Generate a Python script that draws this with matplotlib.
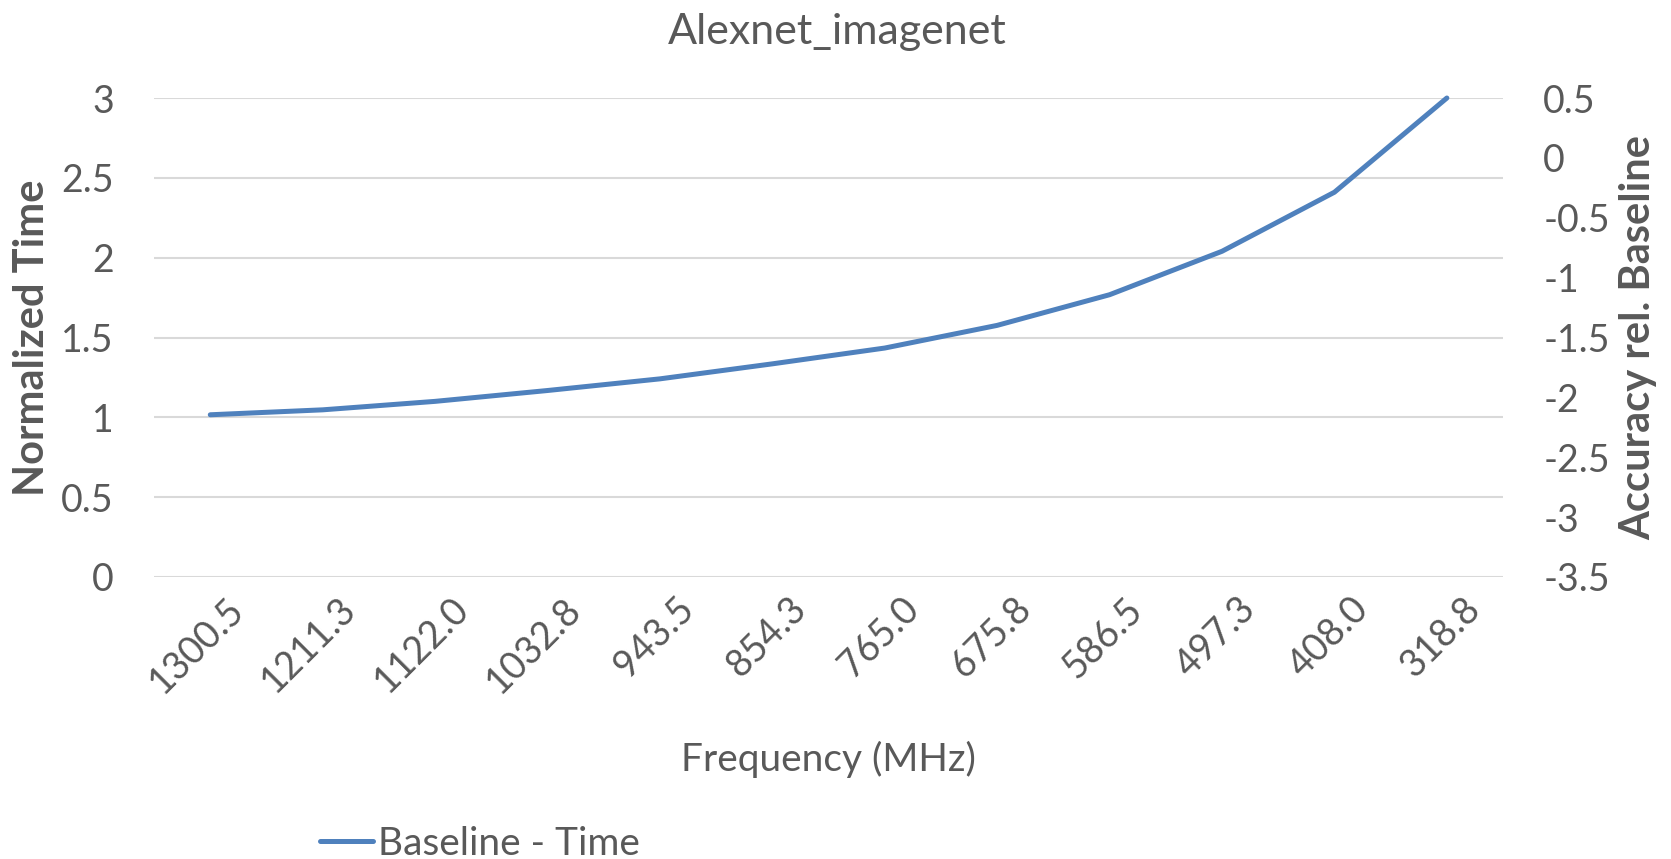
import matplotlib
matplotlib.use("Agg")
import matplotlib.pyplot as plt
from matplotlib.transforms import ScaledTranslation

# frequency steps (MHz), highest first
freqs = ["1300.5", "1211.3", "1122.0", "1032.8", "943.5", "854.3",
         "765.0", "675.8", "586.5", "497.3", "408.0", "318.8"]
# execution time normalised to the 1300.5 MHz run
baseline_time = [1.016, 1.047, 1.10, 1.168, 1.241, 1.335,
                 1.434, 1.576, 1.768, 2.04, 2.41, 3.0]

left_ticks = [0, 0.5, 1, 1.5, 2, 2.5, 3]
right_ticks = [-3.5, -3, -2.5, -2, -1.5, -1, -0.5, 0, 0.5]

plt.rcParams['font.family'] = ['Lato', 'DejaVu Sans']
grey = '#595959'
blue = '#4F81BD'

fig = plt.figure(figsize=(16.71, 8.59), dpi=100)
ax = fig.add_axes([0.0922, 0.3283, 0.8073, 0.5576])
ax2 = ax.twinx()

x = list(range(len(freqs)))
line, = ax.plot(x, baseline_time, color=blue, lw=3.6,
                solid_capstyle='round', solid_joinstyle='round',
                label='Baseline - Time', zorder=3, clip_on=False)

ax.set_xlim(-0.5, len(freqs) - 0.5)
ax.set_ylim(0, 3)
ax.set_yticks(left_ticks)
ax.set_yticklabels([f"{t:g}" for t in left_ticks])
ax.set_xticks(x)
ax.set_xticklabels(freqs, rotation=45, ha='right', rotation_mode='anchor')
ax.yaxis.grid(True, color='#D9D9D9', lw=1.5)
ax.set_axisbelow(True)

ax2.set_ylim(-3.5, 0.5)
ax2.set_yticks(right_ticks)
ax2.set_yticklabels([f"{t:g}" for t in right_ticks])

for a in (ax, ax2):
    for s in a.spines.values():
        s.set_visible(False)
    a.tick_params(length=0, labelsize=27, colors=grey)

ax.tick_params(axis='y', pad=29)
ax.tick_params(axis='x', pad=10)
ax2.tick_params(axis='y', pad=29)

# nudge the slanted frequency labels to the right
shift = ScaledTranslation(11 / 72, 0, fig.dpi_scale_trans)
for lbl in ax.get_xticklabels():
    lbl.set_transform(lbl.get_transform() + shift)

ax.set_ylabel('Normalized Time', fontsize=30, fontweight='bold', color=grey)
ax.yaxis.set_label_coords(-0.0904, 0.5)
ax.yaxis.label.set_va('center')
ax2.set_ylabel('Accuracy rel. Baseline', fontsize=30, fontweight='bold',
               color=grey)
ax2.yaxis.set_label_coords(1.100, 0.5)
ax2.yaxis.label.set_va('center')
ax.set_xlabel('Frequency (MHz)', fontsize=28, color=grey)
ax.xaxis.set_label_coords(0.5, -0.38)
ax.xaxis.label.set_va('center')

fig.text(0.501, 0.963, 'Alexnet_imagenet', fontsize=31, color=grey,
         ha='center', va='center')

leg = fig.legend(handles=[line], loc='center left',
                 bbox_to_anchor=(0.1706, 0.0175), frameon=False,
                 fontsize=28, handlelength=1.36, handletextpad=0.13)
for t in leg.get_texts():
    t.set_color(grey)

fig.savefig('out.png', dpi=100)
